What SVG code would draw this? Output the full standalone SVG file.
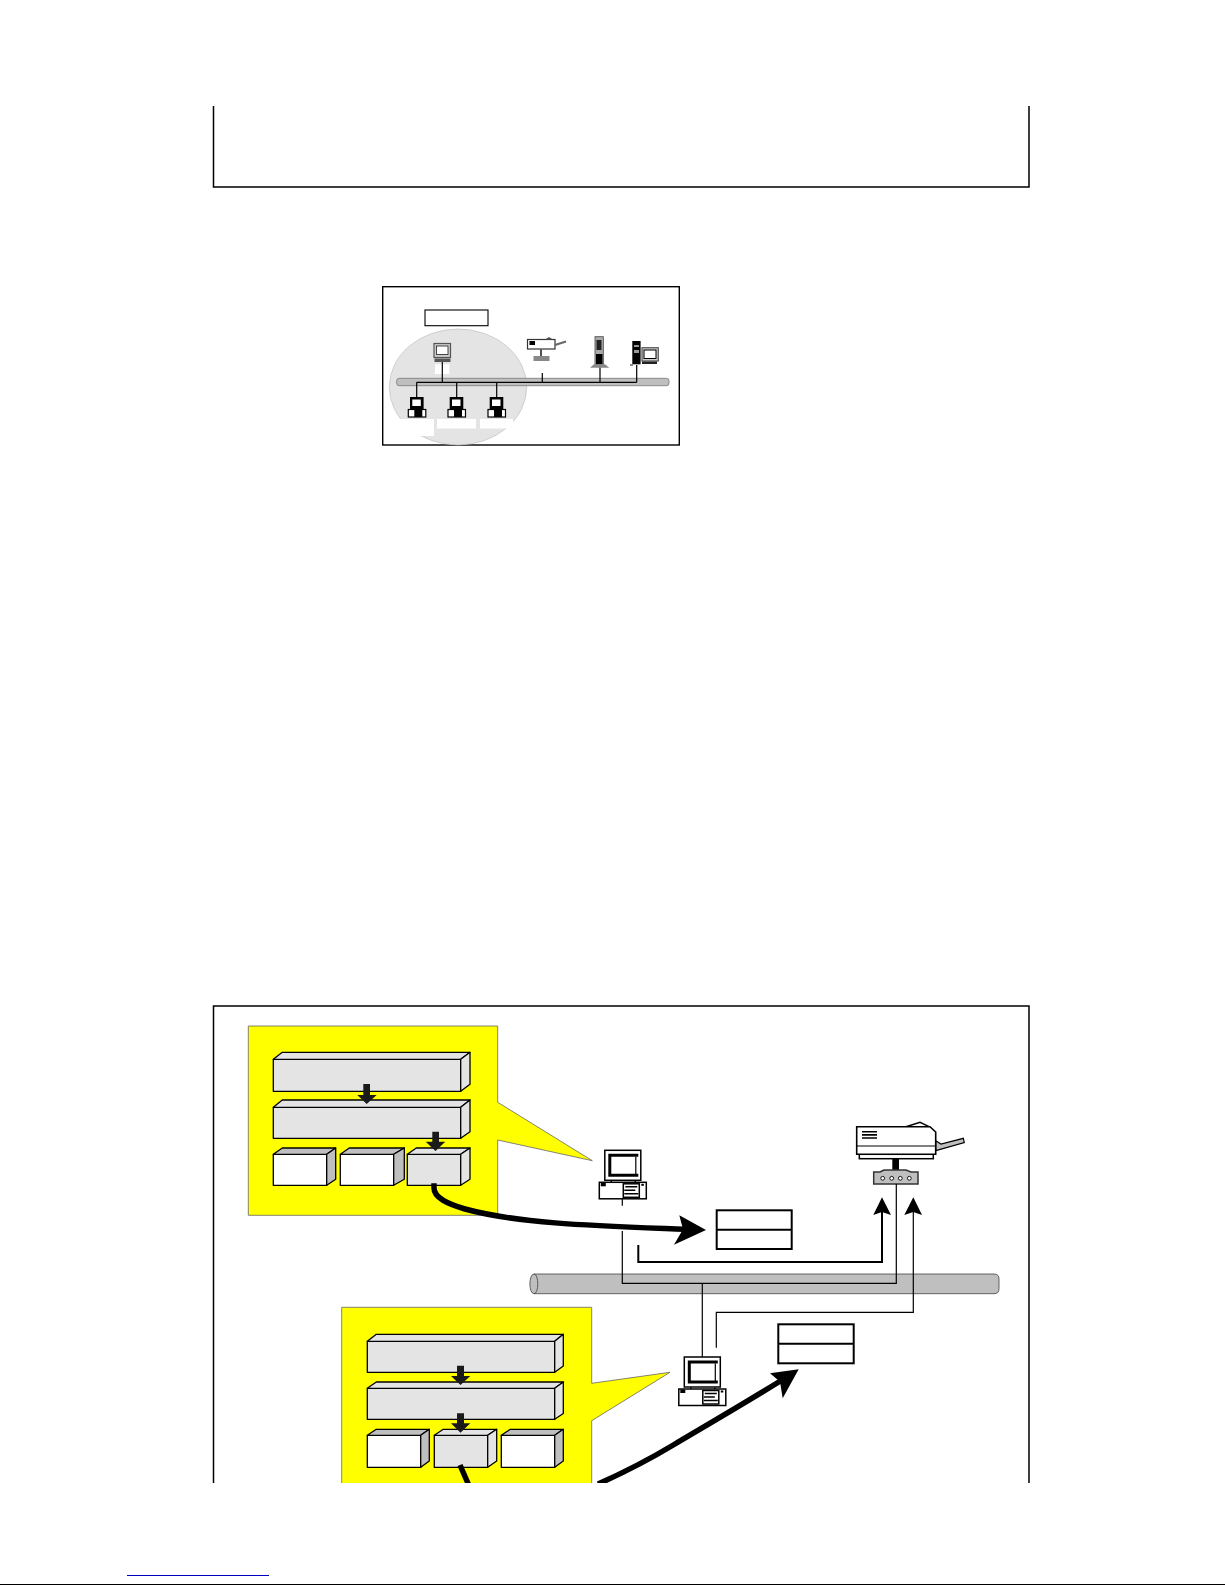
<svg xmlns="http://www.w3.org/2000/svg" width="1225" height="1585" viewBox="0 0 1225 1585">
<style>
.frame{fill:none;stroke:#000;stroke-width:1.5}
.ln{fill:none;stroke:#000;stroke-width:1.2}
.ln2{fill:none;stroke:#000;stroke-width:2}
.thick{fill:none;stroke:#000;stroke-width:5.5}
.yel{fill:#ff0;stroke:#666;stroke-width:.8}
.bx{stroke:#000;stroke-width:1.3;stroke-linejoin:round}
.gy{fill:#e4e4e4}
.wh{fill:#fff}
.sd{fill:#bfbfbf}
.bus{fill:#bfbfbf;stroke:#444;stroke-width:.8}
.dk{fill:#1a1a1a}
.k{fill:#000}
.nt{fill:#fff;stroke:#000;stroke-width:2}
.ic{fill:#fff;stroke:#000;stroke-width:1.5}
</style>
<defs>
<clipPath id="cut"><rect x="0" y="0" width="1225" height="1483"/></clipPath>
<g id="pc">
<rect class="ic" x="5.5" y="-32" width="36" height="30"/>
<path fill="none" stroke="#000" stroke-width="3" d="M39-27H10.5V-7H39"/>
<path fill="none" stroke="#000" stroke-width="1.2" d="M36.5-25.5V-8"/>
<rect class="ic" x="0" y="0" width="47" height="16.5"/>
<rect class="k" x="1.5" y="0.5" width="5" height="3.5"/>
<rect class="ic" x="24" y="1.5" width="16" height="13.5" stroke-width="1"/>
<path stroke="#000" stroke-width="1.5" d="M26 4.5H38M25 8H36M25 11.5H39"/>
<rect class="k" x="42" y="1.5" width="2.5" height="2"/>
<path stroke="#000" stroke-width="1.5" d="M12-1.5V0M36-1.5V0"/>
</g>
<g id="mini">
<rect class="k" x="1.7" y="0" width="13.6" height="12"/>
<rect class="wh" x="4" y="2.5" width="8.5" height="6.5"/>
<rect class="wh" x="0" y="12.5" width="17.5" height="7.5" stroke="#000" stroke-width="1.2"/>
<rect class="k" x="6" y="11" width="8" height="9"/>
</g>
</defs>

<rect width="1225" height="1585" fill="#fff"/>

<path class="frame" d="M213.5 106V187H1029V106"/>
<path class="frame" d="M213.5 1483V1006H1029V1483"/>

<g id="network-overview">
<rect x="382.7" y="286.7" width="296.6" height="158.3" fill="#fff" stroke="#000" stroke-width="1.4"/>
<ellipse cx="458" cy="387" rx="68.7" ry="58" fill="#e4e4e4" stroke="#bbb" stroke-width=".6"/>
<rect x="425" y="310" width="63" height="15.7" fill="#fff" stroke="#000" stroke-width="1.1"/>
<rect x="396.7" y="378.3" width="272.3" height="7.4" rx="2.5" fill="#bfbfbf" stroke="#777" stroke-width=".8"/>
<path fill="#fff" d="M435 364.3h14.3V374H435zM384 419h50v17h-50zM437 419h39v9.5h-39zM480 419h33v9.5h-33z"/>
<path class="ln" d="M416.7 382.3H636.7M416.7 382.3V397M456.7 382.3V397M496.7 382.3V397M442.3 360V382.3M542.3 373V382.3M600 367V382.3M636.7 365V382.3"/>
<rect x="434" y="343.5" width="16.5" height="14" fill="#ccc" stroke="#555" stroke-width="1.2"/>
<rect x="436.5" y="346" width="11.5" height="8.5" fill="#fff" stroke="#333" stroke-width=".9"/>
<rect x="434.5" y="358.5" width="16" height="3.5" fill="#555"/>
<use href="#mini" x="408.3" y="397"/>
<use href="#mini" x="448" y="397"/>
<use href="#mini" x="488" y="397"/>
<rect x="527.5" y="339.5" width="27.5" height="9.5" fill="#fff" stroke="#333" stroke-width="1.2"/>
<rect x="529.5" y="341" width="5.5" height="4" fill="#000"/>
<path fill="none" stroke="#666" stroke-width="2" d="M555 345L566 341.5"/>
<path fill="#555" d="M545 339.5L549 337L553 339.5Z"/>
<path stroke="#222" stroke-width="1.6" d="M541 349.5V356"/>
<rect x="533.5" y="356" width="16" height="5" fill="#888"/>
<rect x="595" y="336.7" width="8.3" height="27.6" fill="#aaa" stroke="#444" stroke-width=".8"/>
<rect x="596" y="354" width="6.5" height="10" fill="#000"/>
<rect x="596.5" y="340" width="5" height="10" fill="#222"/>
<path fill="#888" d="M590 367.7L594 364.3H605L609.3 367.7Z"/>
<rect x="632.3" y="341" width="8.3" height="23.3" fill="#000"/>
<rect x="634" y="345" width="5" height="2" fill="#999"/><rect x="634" y="350" width="5" height="3" fill="#999"/>
<rect x="642" y="347.7" width="16.3" height="13.3" fill="#ccc" stroke="#555" stroke-width="1.2"/>
<rect x="644" y="350" width="12" height="8.5" fill="#fff" stroke="#000" stroke-width="1"/>
<rect x="642" y="361.5" width="15" height="2.5" fill="#222"/>
<path fill="#666" d="M630 364.3h3v1.5h-3z"/>
</g>

<g id="callout-top">
<path class="yel" d="M248.3 1026H497.7V1102.3L592.3 1160.7L497.7 1140V1215.3H248.3Z"/>
</g>
<g id="callout-bottom">
<path class="yel" d="M341.7 1483V1307.3H591.7V1383.3L670 1372.3L591.7 1420.7V1483"/>
</g>

<g id="t-box1" class="bx"><rect class="gy" x="273.3" y="1059.3" width="187.4" height="32"/><path class="gy" d="M273.3 1059.3L282.3 1052.3H470L460.7 1059.3Z"/><path class="gy" d="M460.7 1059.3L470 1052.3V1084.3L460.7 1091.3Z"/></g>
<g id="t-box2" class="bx"><rect class="gy" x="273.3" y="1107.3" width="187.4" height="31"/><path class="gy" d="M273.3 1107.3L282.3 1100H470L460.7 1107.3Z"/><path class="gy" d="M460.7 1107.3L470 1100V1131.7L460.7 1138.3Z"/></g>
<g id="t-box3" class="bx"><rect class="wh" x="273.3" y="1154.3" width="53.4" height="31"/><path class="sd" d="M273.3 1154.3L282.3 1148H335.7L326.7 1154.3Z"/><path class="sd" d="M326.7 1154.3L335.7 1148V1179.3L326.7 1185.3Z"/></g>
<g id="t-box4" class="bx"><rect class="wh" x="340.3" y="1154.3" width="53.4" height="31"/><path class="sd" d="M340.3 1154.3L349.3 1148H404.3L393.7 1154.3Z"/><path class="sd" d="M393.7 1154.3L404.3 1148V1179.3L393.7 1185.3Z"/></g>
<g id="t-box5" class="bx"><rect class="gy" x="407.3" y="1154.3" width="53.4" height="31"/><path class="gy" d="M407.3 1154.3L416.3 1148H470L460.7 1154.3Z"/><path class="gy" d="M460.7 1154.3L470 1148V1179.3L460.7 1185.3Z"/></g>

<g id="b-box1" class="bx"><rect class="gy" x="367.3" y="1341.3" width="187.4" height="31"/><path class="gy" d="M367.3 1341.3L376.3 1334.3H563.3L554.7 1341.3Z"/><path class="gy" d="M554.7 1341.3L563.3 1334.3V1366L554.7 1372.3Z"/></g>
<g id="b-box2" class="bx"><rect class="gy" x="367.3" y="1388.3" width="187.4" height="31"/><path class="gy" d="M367.3 1388.3L376.3 1382H563.3L554.7 1388.3Z"/><path class="gy" d="M554.7 1388.3L563.3 1382V1413.5L554.7 1419.3Z"/></g>
<g id="b-box3" class="bx"><rect class="wh" x="367.3" y="1435.3" width="53.4" height="32"/><path class="sd" d="M367.3 1435.3L376.3 1429.3H429.3L420.7 1435.3Z"/><path class="sd" d="M420.7 1435.3L429.3 1429.3V1461L420.7 1467.3Z"/></g>
<g id="b-box4" class="bx"><rect class="gy" x="434.3" y="1435.3" width="53.4" height="32"/><path class="gy" d="M434.3 1435.3L443.3 1429.3H496.7L487.7 1435.3Z"/><path class="gy" d="M487.7 1435.3L496.7 1429.3V1461L487.7 1467.3Z"/></g>
<g id="b-box5" class="bx"><rect class="wh" x="501.3" y="1435.3" width="53.4" height="32"/><path class="sd" d="M501.3 1435.3L510.3 1429.3H563.3L554.7 1435.3Z"/><path class="sd" d="M554.7 1435.3L563.3 1429.3V1461L554.7 1467.3Z"/></g>

<g id="bus">
<path class="bus" d="M534 1274H994Q999 1274 999 1279V1288.7Q999 1293.7 994 1293.7H534C528.5 1293.7 528.5 1274 534 1274Z"/>
<path fill="none" stroke="#444" stroke-width=".8" d="M534 1274C539 1274 539 1293.7 534 1293.7"/>
</g>

<g id="note-top"><rect class="nt" x="716.7" y="1210.3" width="75" height="38.7"/><path class="ln2" d="M716.7 1229.7H791.7"/></g>
<g id="note-bottom"><rect class="nt" x="778.3" y="1324.3" width="75.4" height="39"/><path class="ln2" d="M778.3 1343.7H853.7"/></g>

<g id="printer">
<path fill="#bfbfbf" stroke="#000" stroke-width="1.2" d="M935.7 1140.7L941 1144L963.3 1138.3L964.3 1142.7L935.7 1150.7Z"/>
<path fill="#fff" stroke="#000" stroke-width="1.5" d="M906 1126.7L920 1122.3L929 1126.7Z"/>
<rect class="ic" x="859.3" y="1154.3" width="74" height="4.4"/>
<path fill="#fff" stroke="#000" stroke-width="1.6" d="M856.7 1126.7H930L935.7 1132V1154.3H856.7Z"/>
<path stroke="#000" stroke-width="1.2" d="M856.7 1146H935.7"/>
<path stroke="#000" stroke-width="1.6" d="M862 1131.7H877M862 1134.9H877M862 1138H877"/>
<rect class="k" x="892.3" y="1158" width="6.7" height="16"/>
<path fill="#bfbfbf" stroke="#333" stroke-width="1.5" d="M873.7 1172H880L884 1170H906L911 1172H918V1184H873.7Z"/>
<g fill="#fff" stroke="#000" stroke-width=".9"><circle cx="882.7" cy="1178.3" r="1.9"/><circle cx="891.7" cy="1178.3" r="1.9"/><circle cx="900.3" cy="1178.3" r="1.9"/><circle cx="909.3" cy="1178.3" r="1.9"/></g>
</g>

<g id="pc-top"><use href="#pc" x="599.3" y="1182.3"/></g>
<g id="pc-bottom"><use href="#pc" x="678.8" y="1389"/></g>

<g id="connectors">
<path class="ln" d="M622.3 1198.7V1205.7"/>
<path class="ln" d="M622.3 1231V1283.3H896.3V1184"/>
<path class="ln" d="M702.3 1283.3V1357"/>
<path class="ln2" d="M638.3 1245V1262H882V1212"/>
<path class="k" d="M882 1197.3L891 1215L882 1212L873.3 1215Z"/>
<path class="ln" d="M716.3 1347.7V1312.3H913.3V1212"/>
<path class="k" d="M913.3 1197.3L922 1215L913.3 1212L904.3 1215Z"/>
<g id="arrow-down" class="dk">
<path d="M363.3 1084H370V1095H376.7L366.7 1104L357.3 1095H363.3Z"/>
<path d="M432.3 1131.7H439V1141.7H445.3L435.5 1151L425.7 1141.7H432.3Z"/>
<path d="M457 1365.7H464V1376H470.3L460.5 1385L451 1376H457Z"/>
<path d="M457 1413.3H464V1423.3H470.3L460.5 1432.7L451 1423.3H457Z"/>
</g>
<g clip-path="url(#cut)">
<path class="thick" d="M434 1183.3V1188C434 1198 448 1204 465 1209C520 1224 600 1226 684 1229.3"/>
<path class="k" d="M706 1230L679.3 1215.3L683 1229.3L674 1244.7Z"/>
<path class="thick" d="M460 1465L468.3 1484"/>
<path class="thick" d="M598 1484C625 1472 650 1459 673.3 1445C700 1429 740 1406 782 1380"/>
<path class="k" d="M798.7 1369.3L770 1373.3L780 1381.7L782.7 1398.3Z"/>
</g>
</g>

<path stroke="#0000c0" stroke-width="1" d="M127 1575.5H269"/>
<path stroke="#000" stroke-width="1" d="M0 1584.5H1225"/>
</svg>
